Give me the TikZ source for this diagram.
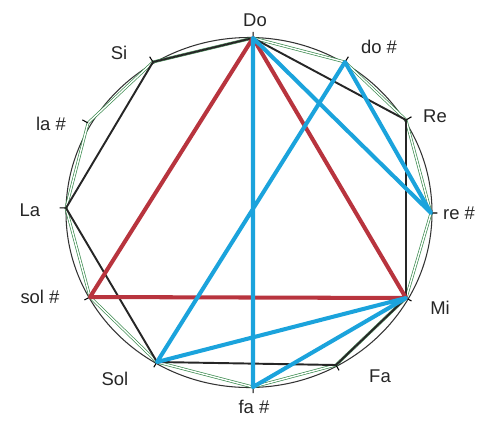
\documentclass[tikz,border=0pt]{standalone}
\usepackage{fontspec}
\setmainfont{Liberation Sans}
\usetikzlibrary{calc}
\definecolor{triared}{HTML}{B8343E}
\definecolor{walkblue}{HTML}{1BA3DC}
\definecolor{gridgreen}{HTML}{3C8C50}
\begin{document}
\begin{tikzpicture}[x=0.02cm,y=-0.02cm,
  lab/.style={font=\fontsize{10.5}{12}\selectfont,text=black!85,inner sep=1pt},
  semi/.style={draw=gridgreen,double=white,double distance=0.8pt,line width=0.4pt},
  diat/.style={draw=black!85,line width=1.1pt,line join=round},
  aug/.style={draw=triared,line width=2.3pt,line join=round},
  walk/.style={draw=walkblue,line width=2.3pt,line join=round},
  notch/.style={draw=black,line width=0.6pt}]
\useasboundingbox (0,0) rectangle (493,420);

% the twelve semitones
\coordinate (ctr) at (249,212.5);
\coordinate (do)   at (253,38);
\coordinate (dos)  at (345,62);
\coordinate (re)   at (406,120);
\coordinate (res)  at (431,213);
\coordinate (mi)   at (406,298);
\coordinate (fa)   at (336,365);
\coordinate (fas)  at (253,387);
\coordinate (sol)  at (157,362);
\coordinate (sols) at (90,297);
\coordinate (la)   at (66,208);
\coordinate (las)  at (88,123);
\coordinate (si)   at (153,62);

% circle and chromatic twelve-gon
\draw[black!80,line width=0.6pt] (ctr) ellipse [x radius=183,y radius=175];
\draw[semi] (do)--(dos)--(re)--(res)--(mi)--(fa)--(fas)--(sol)--(sols)--(la)--(las)--(si)--cycle;
\foreach \p in {do,dos,re,res,mi,fa,fas,sol,sols,la,las,si}
  \draw[notch] (\p) -- ($(ctr)!1.035!(\p)$);

% diatonic scale
\draw[diat] (do)--(re)--(mi)--(fa)--(sol)--(la)--(si)--cycle;

% augmented triad
\draw[aug] (do)--(mi)--(sols)--cycle;

% blue walk
\draw[walk] (fas)--(do)--(res)--(dos)--(sol)--(mi)--cycle;

% names
\node[lab] (ldo)   at (255,20)  {Do};
\node[lab] (ldos)  at (379,47)  {do \#};
\node[lab] (lre)   at (435,116) {Re};
\node[lab] (lres)  at (459,213) {re \#};
\node[lab] (lmi)   at (440,308) {Mi};
\node[lab] (lfa)   at (380,376) {Fa};
\node[lab] (lfas)  at (254,407) {fa \#};
\node[lab] (lsol)  at (115,379) {Sol};
\node[lab] (lsols) at (40,297)  {sol \#};
\node[lab] (lla)   at (30,210)  {La};
\node[lab] (llas)  at (51,124)  {la \#};
\node[lab] (lsi)   at (119,53)  {Si};
\end{tikzpicture}
\end{document}
